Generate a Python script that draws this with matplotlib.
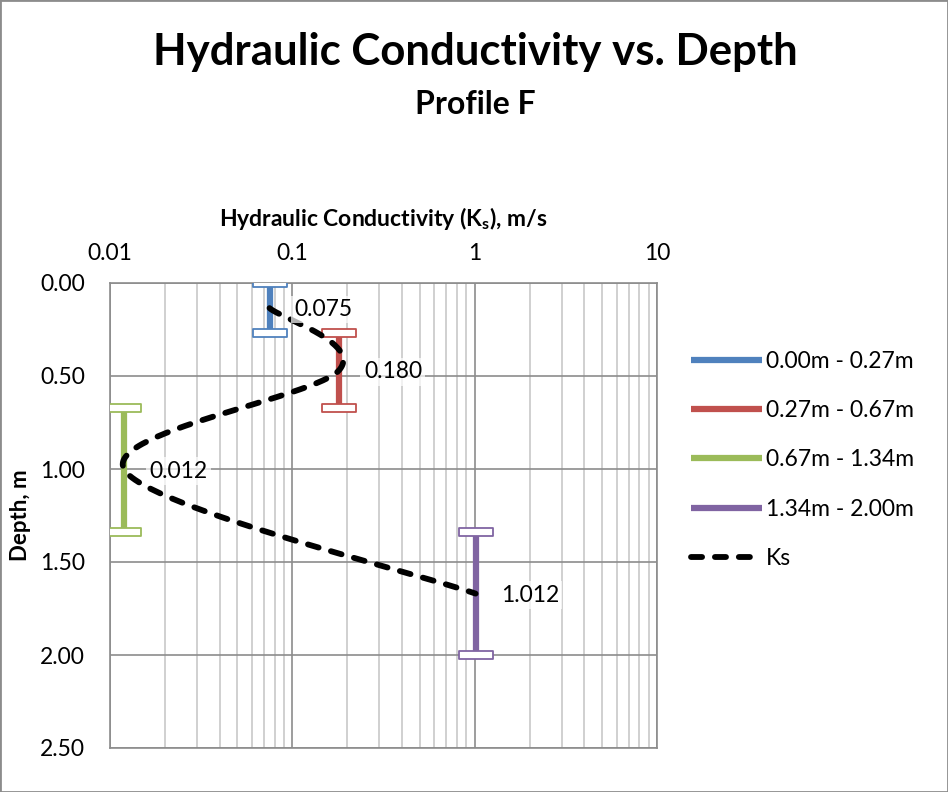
import numpy as np
import matplotlib
matplotlib.use("Agg")
import matplotlib.pyplot as plt
from matplotlib.path import Path
from matplotlib.ticker import LogLocator, FixedLocator, NullFormatter
from matplotlib.patches import Rectangle

plt.rcParams['font.family'] = ['Lato', 'DejaVu Sans']

# Layer data
layer_labels = ["0.00m - 0.27m", "0.27m - 0.67m", "0.67m - 1.34m", "1.34m - 2.00m"]
layer_top = [0.00, 0.27, 0.67, 1.34]
layer_bottom = [0.27, 0.67, 1.34, 2.00]
ks_values = [0.075, 0.180, 0.012, 1.012]
ks_depth = [0.135, 0.47, 1.005, 1.67]
ks_text = ["0.075", "0.180", "0.012", "1.012"]
colors = ["#4F81BD", "#C0504D", "#9BBB59", "#8064A2"]

x_ticks = [0.01, 0.1, 1, 10]
x_tick_labels = ["0.01", "0.1", "1", "10"]
y_ticks = [0.0, 0.5, 1.0, 1.5, 2.0, 2.5]
y_tick_labels = ["0.00", "0.50", "1.00", "1.50", "2.00", "2.50"]

fig = plt.figure(figsize=(9.48, 7.92), dpi=100)
ax = fig.add_axes([110/948, 1-748/792, (657-110)/948, (748-283)/792])

ax.set_xscale('log')
ax.set_xlim(0.01, 10)
ax.set_ylim(2.5, 0.0)

# Gridlines
ax.xaxis.set_major_locator(FixedLocator(x_ticks))
ax.xaxis.set_minor_locator(LogLocator(base=10, subs=np.arange(2, 10)))
ax.xaxis.set_minor_formatter(NullFormatter())
ax.set_xticklabels(x_tick_labels)
ax.set_yticks(y_ticks)
ax.set_yticklabels(y_tick_labels)
ax.grid(True, which='major', color='#8C8C8C', lw=1.2)
ax.grid(True, which='minor', axis='x', color='#C8C8C8', lw=1.2)
ax.set_axisbelow(True)
ax.xaxis.tick_top()
ax.xaxis.set_label_position('top')
ax.tick_params(which='both', length=0)
ax.tick_params(axis='x', labelsize=16.5, pad=14)
ax.tick_params(axis='y', labelsize=16.5, pad=18)
for s in ax.spines.values():
    s.set_color('#8C8C8C')
    s.set_linewidth(1.2)

# Hollow rectangular cap marker
cap = Path([(-0.5, -0.11), (0.5, -0.11), (0.5, 0.11), (-0.5, 0.11), (-0.5, -0.11)],
           [Path.MOVETO, Path.LINETO, Path.LINETO, Path.LINETO, Path.CLOSEPOLY])

handles = []
for k, t, b, c, lab in zip(ks_values, layer_top, layer_bottom, colors, layer_labels):
    h, = ax.plot([k, k], [t, b], color=c, lw=4.5, solid_capstyle='butt',
                 label=lab, zorder=3)
    ax.plot([k, k], [t, b], ls='none', marker=cap, markersize=25,
            markerfacecolor='white', markeredgecolor=c, markeredgewidth=1.3,
            zorder=3.5)
    handles.append(h)

# Smoothed Ks profile (Catmull-Rom through points in display-like space)
u = np.log10(ks_values) * 182.3
v = np.array(ks_depth) * 186.0
pts = np.column_stack([u, v])
ext = np.vstack([pts[0], pts, pts[-1]])
curve = []
for i in range(len(pts) - 1):
    p0, p1, p2, p3 = ext[i], ext[i+1], ext[i+2], ext[i+3]
    c1 = p1 + (p2 - p0) / 6.0
    c2 = p2 - (p3 - p1) / 6.0
    tt = np.linspace(0, 1, 60)[:, None]
    seg = ((1-tt)**3)*p1 + 3*((1-tt)**2)*tt*c1 + 3*(1-tt)*(tt**2)*c2 + (tt**3)*p2
    curve.append(seg if i == 0 else seg[1:])
curve = np.vstack(curve)
cx = 10 ** (curve[:, 0] / 182.3)
cy = curve[:, 1] / 186.0
ks_line, = ax.plot(cx, cy, color='black', lw=4.2, ls=(0, (1.9, 2.2)),
                   dash_capstyle='round', label='Ks', zorder=4)
handles.append(ks_line)

# Value labels
for k, d, txt in zip(ks_values, ks_depth, ks_text):
    ax.annotate(txt, (k, d), xytext=(18, -1), textcoords='offset points',
                ha='left', va='center', fontsize=16.5, zorder=5,
                bbox=dict(boxstyle='square,pad=0.15', fc='white', ec='none', alpha=0.7))

ax.set_xlabel("Hydraulic Conductivity (K$_\\mathregular{s}$), m/s", fontsize=16.5,
              fontweight='bold', labelpad=12)
fig.text(21/948, 1-515/792, "Depth, m", rotation=90, ha='center', va='center',
         fontsize=16, fontweight='bold')

fig.text(475/948, 1-52/792, "Hydraulic Conductivity vs. Depth", ha='center',
         va='center', fontsize=31.5, fontweight='bold')
fig.text(475/948, 1-105/792, "Profile F", ha='center', va='center',
         fontsize=23, fontweight='bold')

fig.legend(handles=handles, loc='center left', bbox_to_anchor=(670/948, 1-460/792),
           frameon=False, fontsize=16.5, handlelength=3.1, labelspacing=1.24,
           handletextpad=0.2)

fig.add_artist(Rectangle((0, 0), 1, 1, transform=fig.transFigure, fill=False,
                         ec='#8C8C8C', lw=2))

fig.savefig("out.png", dpi=100)
